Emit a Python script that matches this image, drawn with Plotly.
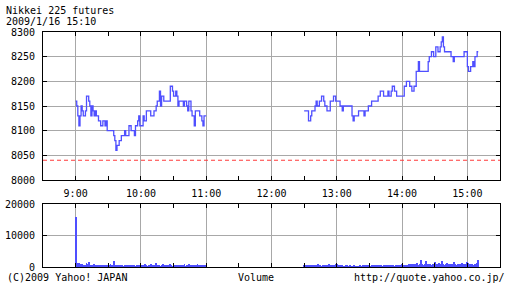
import pandas as pd
import plotly.graph_objects as go

# ---- data (minutes after 9:00, price in yen) ----
am_minutes = [0, 1, 2, 3, 4, 5, 6, 7, 9, 10, 12, 13, 14, 15, 16, 17, 18, 19, 21, 23,
              25, 27, 28, 29, 35, 36, 37, 38, 40, 42, 45, 46, 49, 51, 54, 55, 57, 58, 59, 62,
              63, 65, 69, 72, 74, 75, 77, 78, 79, 81, 87, 89, 90, 92, 93, 94, 95, 99, 100, 102,
              103, 104, 106, 107, 109, 110, 114, 116, 117, 118, 120]
am_prices = [8160, 8150, 8130, 8110, 8130, 8150, 8140, 8130, 8140, 8170, 8160, 8150, 8130, 8150, 8140, 8130, 8140, 8130, 8120, 8110,
             8120, 8110, 8120, 8100, 8090, 8080, 8060, 8070, 8080, 8090, 8100, 8090, 8110, 8100, 8090, 8110, 8120, 8130, 8110, 8130,
             8120, 8140, 8130, 8140, 8150, 8160, 8180, 8150, 8170, 8160, 8190, 8180, 8170, 8180, 8170, 8150, 8160, 8150, 8160, 8150,
             8140, 8160, 8140, 8130, 8110, 8140, 8130, 8120, 8110, 8130, 8130]

pm_minutes = [210, 214, 216, 217, 220, 221, 222, 224, 226, 228, 229, 231, 234, 237, 239, 243, 245, 246, 254, 255,
              256, 260, 265, 266, 269, 272, 278, 280, 283, 287, 288, 290, 291, 293, 295, 302, 304, 307, 309, 311,
              313, 315, 316, 324, 325, 327, 329, 331, 333, 335, 336, 337, 338, 339, 345, 347, 348, 357, 360, 361,
              363, 365, 366, 367, 369, 370]
pm_prices = [8140, 8120, 8130, 8140, 8150, 8160, 8150, 8160, 8170, 8160, 8150, 8140, 8160, 8170, 8160, 8150, 8140, 8150, 8130, 8120,
             8130, 8140, 8130, 8140, 8150, 8160, 8170, 8180, 8170, 8180, 8170, 8180, 8190, 8180, 8170, 8190, 8200, 8190, 8180, 8190,
             8220, 8240, 8220, 8240, 8250, 8260, 8250, 8270, 8260, 8270, 8280, 8290, 8270, 8260, 8250, 8240, 8250, 8260, 8230, 8220,
             8230, 8240, 8230, 8250, 8260, 8260]

prev_close = 8040

# volume per minute: morning starts 9:00, afternoon starts 12:30
am_volume = [16000, 1300, 900, 1200, 800, 700, 1100, 600, 500, 400, 1400, 900, 1500, 700, 600, 500, 400, 800, 600, 300,
             500, 700, 400, 600, 500, 300, 700, 400, 500, 600, 300, 400, 800, 500, 600, 2000, 700, 500, 400, 300,
             600, 500, 400, 700, 300, 500, 400, 600, 300, 500, 400, 300, 600, 700, 400, 300, 500, 400, 300, 600,
             200, 400, 300, 500, 800, 400, 300, 600, 500, 900, 400, 300, 500, 700, 1200, 500, 400, 600, 300, 500,
             900, 700, 400, 500, 300, 600, 400, 1000, 500, 300, 400, 600, 500, 300, 700, 400, 500, 300, 600, 400,
             800, 300, 500, 400, 1000, 600, 300, 500, 700, 400, 300, 600, 900, 400, 500, 300, 400, 600, 300, 500]
pm_volume = [600, 500, 500, 400, 500, 400, 500, 600, 400, 500, 400, 500, 700, 1000, 400, 500, 300, 400, 600, 300,
             400, 500, 300, 1000, 400, 300, 500, 600, 400, 1100, 800, 300, 400, 500, 300, 400, 200, 300, 400, 600,
             300, 200, 400, 300, 200, 300, 400, 200, 300, 200, 300, 400, 200, 300, 500, 300, 400, 700, 300, 400,
             500, 300, 400, 600, 300, 500, 400, 700, 300, 400, 500, 600, 300, 400, 500, 300, 400, 600, 500, 700,
             400, 500, 600, 300, 500, 400, 700, 500, 400, 600, 900, 500, 400, 700, 600, 500, 800, 600, 900, 700,
             1000, 600, 800, 500, 1200, 700, 900, 2200, 800, 600, 700, 1000, 1800, 900, 700, 800, 1100, 600, 900, 1000,
             1500, 700, 800, 1000, 1200, 900, 600, 1800, 800, 700, 1000, 1400, 900, 600, 800, 1000, 700, 900, 1500, 800,
             600, 900, 700, 1000, 800, 1200, 700, 900, 800, 1100, 1700, 1400, 900, 800, 1000, 700, 600, 900, 800, 1200, 2200]

price_ticks = [8000, 8050, 8100, 8150, 8200, 8250, 8300]
volume_ticks = [0, 10000, 20000]
volume_tick_labels = ["0", "10000", "20000"]

base = pd.Timestamp("2009-01-16 09:00")
def to_time(mins):
    return [base + pd.Timedelta(minutes=m) for m in mins]

am_vol_t = to_time(range(0, len(am_volume)))
pm_vol_t = to_time(range(210, 210 + len(pm_volume)))

BLUE = "#4f4fff"
FONT = "DejaVu Sans Mono"

fig = go.Figure()
fig.add_trace(go.Scatter(x=to_time(am_minutes), y=am_prices, mode="lines",
                         line=dict(color=BLUE, width=1.3, shape="hv"), xaxis="x", yaxis="y"))
fig.add_trace(go.Scatter(x=to_time(pm_minutes), y=pm_prices, mode="lines",
                         line=dict(color=BLUE, width=1.3, shape="hv"), xaxis="x", yaxis="y"))
fig.add_trace(go.Bar(x=am_vol_t + pm_vol_t, y=am_volume + pm_volume, marker=dict(color=BLUE, line=dict(width=0)),
                     width=50000, xaxis="x2", yaxis="y2"))

fig.add_shape(type="line", xref="x domain", yref="y", x0=0, x1=1, y0=prev_close, y1=prev_close,
              layer="above", line=dict(color="#ff3b3b", width=1.2, dash="4px,3px"))

xr = [base - pd.Timedelta(minutes=30), base + pd.Timedelta(minutes=390)]
W, H = 512, 288
xdom = [43 / W, 500 / W]

common_x = dict(type="date", range=xr, domain=xdom, dtick=3600000, tick0=base,
                showgrid=True, gridcolor="#a8a8a8", gridwidth=1,
                ticks="inside", ticklen=4, tickcolor="black", tickwidth=1,
                minor=dict(dtick=1800000, tick0=base, ticks="inside", ticklen=4, tickcolor="black", showgrid=False),
                showline=True, linecolor="black", linewidth=1, mirror="allticks",
                zeroline=False, tickformat="%-H:%M", fixedrange=True, automargin=False)

fig.update_layout(
    width=W, height=H, margin=dict(l=0, r=0, t=0, b=0, pad=0, autoexpand=False),
    paper_bgcolor="white", plot_bgcolor="white", showlegend=False,
    font=dict(family=FONT, size=10, color="black"),
    xaxis=dict(common_x, anchor="y", showticklabels=True, ticklabelstandoff=4),
    yaxis=dict(range=[8000, 8300], domain=[1 - 180 / H, 1 - 32 / H], tickvals=price_ticks,
               showgrid=True, gridcolor="#a8a8a8", gridwidth=1, ticks="inside", ticklen=4,
               tickcolor="black", showline=True, linecolor="black", linewidth=1, mirror="allticks",
               zeroline=False, anchor="x", ticklabelstandoff=5, automargin=False),
    xaxis2=dict(common_x, anchor="y2", showticklabels=False),
    yaxis2=dict(range=[0, 20000], domain=[1 - 267 / H, 1 - 204 / H], tickvals=volume_ticks,
                ticktext=volume_tick_labels, tickmode="array",
                showgrid=True, gridcolor="#a8a8a8", gridwidth=1, ticks="inside", ticklen=4,
                tickcolor="black", showline=True, linecolor="black", linewidth=1, mirror="allticks",
                zeroline=False, anchor="x2", ticklabelstandoff=5, automargin=False),
    bargap=0,
)

def txt(s, x, y, xa, size=10):
    fig.add_annotation(text=s, x=x / W, y=1 - y / H, xref="paper", yref="paper",
                       xanchor=xa, yanchor="middle", showarrow=False, borderpad=0,
                       font=dict(family=FONT, size=size, color="black"))

txt("Nikkei 225 futures", 5, 11, "left")
txt("2009/1/16 15:10", 5, 21.5, "left")
txt("(C)2009 Yahoo! JAPAN", 6, 277, "left")
txt("Volume", 256, 277, "center")
txt("http://quote.yahoo.co.jp/", 506, 277, "right")

fig.write_html("out.html")
